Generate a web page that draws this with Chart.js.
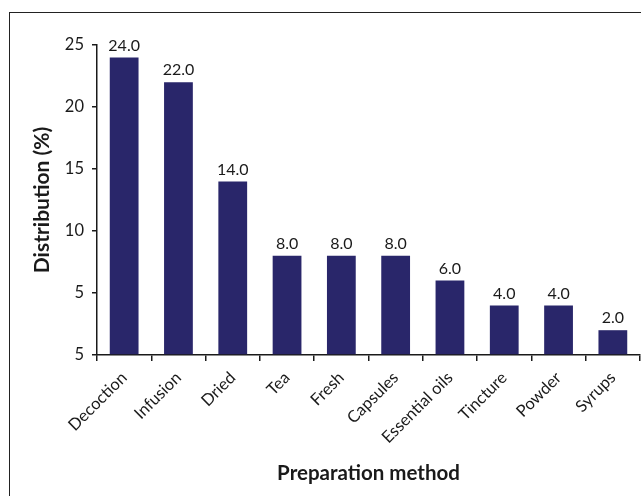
<!DOCTYPE html>
<html>
<head>
<meta charset="utf-8">
<script src="https://cdn.jsdelivr.net/npm/chart.js@4.4.1/dist/chart.umd.min.js"></script>
<style>
  html, body { margin: 0; padding: 0; background: #fff; overflow: hidden; }
  #wrap { position: relative; width: 641px; height: 496px; }
  #frame { position: absolute; left: 9px; top: 12px; width: 700px; height: 600px; border: 1px solid #222; }
  canvas { position: absolute; left: 0; top: 0; }
</style>
</head>
<body>
<div id="wrap">
  <div id="frame"></div>
  <canvas id="chart" width="641" height="496"></canvas>
</div>
<script>
// categories + values
const methods = ['Decoction', 'Infusion', 'Dried', 'Tea', 'Fresh', 'Capsules', 'Essential oils', 'Tincture', 'Powder', 'Syrups'];
const shares  = [24.0, 22.0, 14.0, 8.0, 8.0, 8.0, 6.0, 4.0, 4.0, 2.0];
// y tick labels as printed in the original (bottom one reads "5")
const yTickValues = [0, 5, 10, 15, 20, 25];
const yTickLabels = ['5', '5', '10', '15', '20', '25'];

const FONT = 'Lato, "Open Sans", sans-serif';
const INK  = '#1a1a1a';
const BAR  = '#29266a';

// value labels above each bar
const barLabels = {
  id: 'barLabels',
  afterDatasetsDraw(chart) {
    const ctx = chart.ctx;
    const meta = chart.getDatasetMeta(0);
    ctx.save();
    ctx.font = `16px ${FONT}`;
    ctx.fillStyle = INK;
    ctx.textAlign = 'center';
    ctx.textBaseline = 'bottom';
    meta.data.forEach((bar, i) => {
      ctx.fillText(shares[i].toFixed(1), bar.x, bar.y - 4);
    });
    ctx.restore();
  },
};

new Chart(document.getElementById('chart'), {
  type: 'bar',
  data: {
    labels: methods,
    datasets: [{
      data: shares,
      backgroundColor: BAR,
      borderWidth: 0,
      categoryPercentage: 1,
      barPercentage: 0.53,
    }],
  },
  options: {
    responsive: false,
    animation: false,
    layout: { padding: { top: 45, left: 26, right: 1, bottom: 6 } },
    plugins: { legend: { display: false }, tooltip: { enabled: false } },
    scales: {
      x: {
        offset: true,
        border: { display: true, color: INK, width: 1.5 },
        grid: { display: true, drawOnChartArea: false, drawTicks: true, tickLength: 6, color: INK, lineWidth: 1.5, offset: true },
        ticks: { color: INK, font: { family: FONT, size: 16.5 }, minRotation: 45, maxRotation: 45, autoSkip: false, padding: 7 },
        title: { display: true, text: 'Preparation method', color: INK, font: { family: FONT, size: 20.5, weight: 'bold' }, padding: { top: 4, bottom: 4 } },
        afterFit: s => { s.height = 135; },
      },
      y: {
        min: 0, max: 25,
        afterBuildTicks: s => { s.ticks = yTickValues.map(v => ({ value: v })); },
        border: { display: true, color: INK, width: 1.5 },
        grid: { display: true, drawOnChartArea: false, drawTicks: true, tickLength: 5, color: INK, lineWidth: 1.5 },
        ticks: { color: INK, font: { family: FONT, size: 16.5 }, padding: 8, callback: (v) => yTickLabels[yTickValues.indexOf(v)] },
        title: { display: true, text: 'Distribution (%)', color: INK, font: { family: FONT, size: 21, weight: 'bold' }, padding: { top: 4, bottom: 4 } },
        afterFit: s => { s.width = 71; },
      },
    },
  },
  plugins: [barLabels],
});
</script>
</body>
</html>
